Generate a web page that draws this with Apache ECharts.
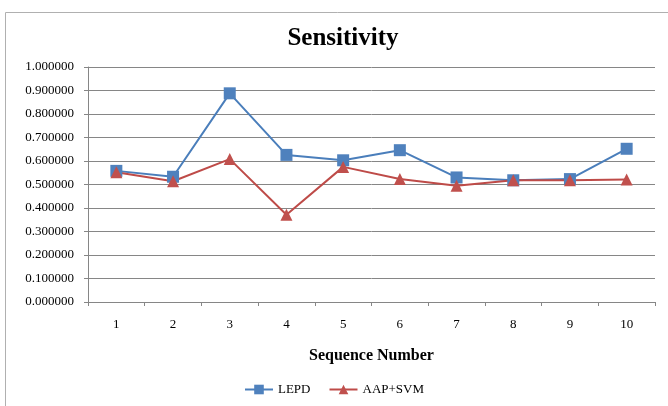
<!DOCTYPE html>
<html>
<head>
<meta charset="utf-8">
<script src="https://cdn.jsdelivr.net/npm/echarts@6/dist/echarts.min.js"></script>
<style>
html, body { margin: 0; padding: 0; background: #fff; }
#chart { width: 668px; height: 406px; }
</style>
</head>
<body>
<div id="chart"></div>
<script>
const categories = ['1', '2', '3', '4', '5', '6', '7', '8', '9', '10']
const lepd = [0.558, 0.533, 0.888, 0.626, 0.603, 0.646, 0.530, 0.518, 0.523, 0.652]
const aapSvm = [0.552, 0.514, 0.608, 0.371, 0.575, 0.523, 0.495, 0.518, 0.518, 0.521]

const serif = '"Liberation Serif", "DejaVu Serif", serif'
const chart = echarts.init(document.getElementById('chart'))

const option = {
  animation: false,
  title: {
    text: 'Sensitivity',
    left: 338,
    textAlign: 'center',
    top: 21,
    textStyle: { fontFamily: serif, fontSize: 25, fontWeight: 'bold', color: '#000' }
  },
  graphic: [{
    type: 'rect',
    shape: { x: 5.5, y: 12.5, width: 700, height: 420 },
    style: { fill: 'none', stroke: '#b0b0b0', lineWidth: 1 },
    silent: true
  }],
  legend: {
    bottom: 5,
    left: 'center',
    itemWidth: 28,
    itemHeight: 12,
    itemGap: 18,
    textStyle: { fontFamily: serif, fontSize: 13, color: '#000' },
    data: ['LEPD', 'AAP+SVM']
  },
  grid: { left: 88, right: 13, top: 67, bottom: 104 },
  xAxis: {
    type: 'category',
    data: categories,
    name: 'Sequence Number',
    nameLocation: 'middle',
    nameGap: 46,
    nameTextStyle: { fontFamily: serif, fontSize: 16, fontWeight: 'bold', color: '#000' },
    axisLine: { lineStyle: { color: '#868686' } },
    axisTick: { show: true, alignWithLabel: false, length: 4, lineStyle: { color: '#868686' } },
    axisLabel: { margin: 16, fontFamily: serif, fontSize: 13, color: '#000' }
  },
  yAxis: {
    type: 'value',
    min: 0,
    max: 1,
    interval: 0.1,
    axisLine: { show: true, lineStyle: { color: '#868686' } },
    axisTick: { show: true, length: 4, lineStyle: { color: '#868686' } },
    axisLabel: {
      margin: 14,
      fontFamily: serif,
      fontSize: 13,
      color: '#000',
      formatter: v => v.toFixed(6)
    },
    splitLine: { lineStyle: { color: '#868686', width: 1 } }
  },
  series: [{
    name: 'LEPD',
    type: 'line',
    data: lepd,
    symbol: 'rect',
    symbolSize: 12,
    itemStyle: { color: '#4F81BD' },
    lineStyle: { color: '#4A7EBB', width: 2 }
  }, {
    name: 'AAP+SVM',
    type: 'line',
    data: aapSvm,
    symbol: 'triangle',
    symbolSize: 12,
    itemStyle: { color: '#C0504D' },
    lineStyle: { color: '#BE4B48', width: 2 }
  }]
}
chart.setOption(option)
</script>
</body>
</html>
